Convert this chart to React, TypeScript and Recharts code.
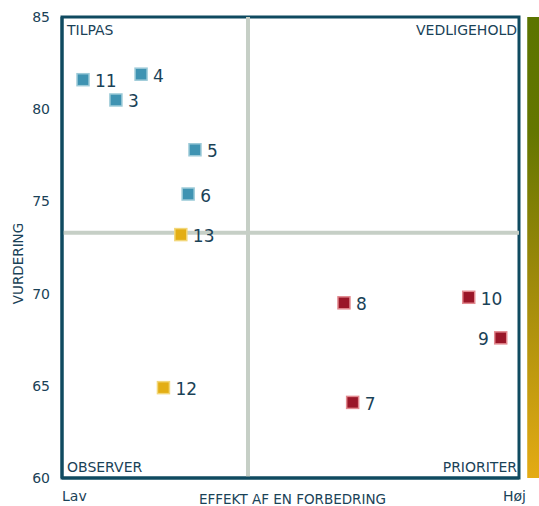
import {
  ScatterChart,
  Scatter,
  XAxis,
  YAxis,
  ReferenceLine,
  ReferenceArea,
  LabelList,
} from 'recharts';

// effekt af en forbedring (0 = lav, 100 = høj) and vurdering per item
const blueIds = [11, 4, 3, 5, 6];
const blueEffect = [4.6, 17.3, 11.8, 29.1, 27.6];
const blueRating = [81.6, 81.9, 80.5, 77.8, 75.4];

const goldIds = [13, 12];
const goldEffect = [26.0, 22.2];
const goldRating = [73.2, 64.9];

const redIds = [8, 10, 9, 7];
const redEffect = [61.7, 89.0, 96.0, 63.6];
const redRating = [69.5, 69.8, 67.6, 64.1];

const yTicks = [60, 65, 70, 75, 80, 85];
const xTickLabels = ['Lav', 'Høj'];
const effectSplit = 40.7;
const ratingSplit = 73.3;

const FONT = '"DejaVu Sans", Verdana, sans-serif';
const DARK = '#0f4a60';
const TEXT = '#1a4257';

const toPoints = (ids: number[], xs: number[], ys: number[]) =>
  ids.map((id, i) => ({ id, x: xs[i], y: ys[i] }));

const bluePoints = toPoints(blueIds, blueEffect, blueRating);
const goldPoints = toPoints(goldIds, goldEffect, goldRating);
const redPoints = toPoints(redIds, redEffect, redRating);

function square(fill: string, stroke: string) {
  return (props: any) => {
    const { cx, cy } = props;
    return (
      <rect
        x={cx - 6}
        y={cy - 6}
        width={12}
        height={12}
        fill={fill}
        stroke={stroke}
        strokeWidth={1.5}
      />
    );
  };
}

function PointLabel(props: any) {
  const { x, y, width, height, value } = props;
  const cx = x + width / 2;
  const cy = y + height / 2;
  const left = value === 9;
  return (
    <text
      x={left ? cx - 12 : cx + 12}
      y={cy + 7.5}
      textAnchor={left ? 'end' : 'start'}
      fontSize={17}
      fontFamily={FONT}
      fill={TEXT}
    >
      {value}
    </text>
  );
}

function corner(text: string, pos: 'tl' | 'tr' | 'bl' | 'br') {
  return (props: any) => {
    const vb = props.viewBox;
    const right = pos === 'tr' || pos === 'br';
    const top = pos === 'tl' || pos === 'tr';
    return (
      <text
        x={right ? vb.x + vb.width - 2 : vb.x + 5}
        y={top ? vb.y + 18 : vb.y + vb.height - 6}
        textAnchor={right ? 'end' : 'start'}
        fontSize={14}
        fontFamily={FONT}
        fill={TEXT}
      >
        {text}
      </text>
    );
  };
}

function XTick(props: any) {
  const { x, y, payload } = props;
  const first = payload.value === 0;
  return (
    <text
      x={first ? x : x + 7}
      y={y + 21}
      textAnchor={first ? 'start' : 'end'}
      fontSize={14}
      fontFamily={FONT}
      fill={TEXT}
    >
      {first ? xTickLabels[0] : xTickLabels[1]}
    </text>
  );
}

export default function App() {
  return (
    <div style={{ position: 'absolute', left: 0, top: 0 }}>
      <ScatterChart
        width={539}
        height={506}
        margin={{ top: 17, right: 20, bottom: 0, left: 0 }}
      >
        <defs>
          <linearGradient id="sideBar" x1="0" y1="0" x2="0" y2="1">
            <stop offset="0%" stopColor="#5b7400" />
            <stop offset="25%" stopColor="#647600" />
            <stop offset="55%" stopColor="#9a880a" />
            <stop offset="100%" stopColor="#e4ab14" />
          </linearGradient>
        </defs>
        <XAxis
          type="number"
          dataKey="x"
          domain={[0, 100]}
          ticks={[0, 100]}
          tick={<XTick />}
          tickLine={false}
          tickSize={0}
          height={28}
          axisLine={{ stroke: DARK, strokeWidth: 3 }}
          label={(p: any) => (
            <text
              x={p.viewBox.x + p.viewBox.width / 2 + 2}
              y={p.viewBox.y + 26}
              textAnchor="middle"
              fontSize={13.5}
              fontFamily={FONT}
              fill={TEXT}
            >
              EFFEKT AF EN FORBEDRING
            </text>
          )}
        />
        <YAxis
          type="number"
          dataKey="y"
          domain={[60, 85]}
          ticks={yTicks}
          width={62}
          tickLine={false}
          tickSize={0}
          tickMargin={12}
          tick={{ fontSize: 14, fontFamily: FONT, fill: TEXT }}
          axisLine={{ stroke: DARK, strokeWidth: 3 }}
          label={(p: any) => (
            <text
              x={23}
              y={p.viewBox.y + p.viewBox.height / 2 + 16}
              transform={`rotate(-90 23 ${p.viewBox.y + p.viewBox.height / 2 + 16})`}
              textAnchor="middle"
              fontSize={13.5}
              fontFamily={FONT}
              fill={TEXT}
            >
              VURDERING
            </text>
          )}
        />
        <ReferenceArea
          x1={0}
          x2={effectSplit}
          y1={ratingSplit}
          y2={85}
          fill="none"
          label={corner('TILPAS', 'tl')}
        />
        <ReferenceArea
          x1={effectSplit}
          x2={100}
          y1={ratingSplit}
          y2={85}
          fill="none"
          label={corner('VEDLIGEHOLD', 'tr')}
        />
        <ReferenceArea
          x1={0}
          x2={effectSplit}
          y1={60}
          y2={ratingSplit}
          fill="none"
          label={corner('OBSERVER', 'bl')}
        />
        <ReferenceArea
          x1={effectSplit}
          x2={100}
          y1={60}
          y2={ratingSplit}
          fill="none"
          label={corner('PRIORITER', 'br')}
        />
        <ReferenceLine x={effectSplit} stroke="#c6cfc6" strokeWidth={4} />
        <ReferenceLine y={ratingSplit} stroke="#c6cfc6" strokeWidth={4} />
        <ReferenceArea
          x1={0}
          x2={100}
          y1={60}
          y2={85}
          fill="none"
          stroke={DARK}
          strokeWidth={3}
          ifOverflow="visible"
        />
        <ReferenceArea
          x1={101.8}
          x2={104.4}
          y1={60}
          y2={85}
          fill="url(#sideBar)"
          fillOpacity={1}
          ifOverflow="visible"
        />
        <Scatter
          data={bluePoints}
          shape={square('#3f93b2', '#9ccad8')}
          isAnimationActive={false}
        >
          <LabelList dataKey="id" content={<PointLabel />} />
        </Scatter>
        <Scatter
          data={goldPoints}
          shape={square('#e3ae14', '#f2d77a')}
          isAnimationActive={false}
        >
          <LabelList dataKey="id" content={<PointLabel />} />
        </Scatter>
        <Scatter
          data={redPoints}
          shape={square('#9a1628', '#e2898f')}
          isAnimationActive={false}
        >
          <LabelList dataKey="id" content={<PointLabel />} />
        </Scatter>
      </ScatterChart>
    </div>
  );
}
